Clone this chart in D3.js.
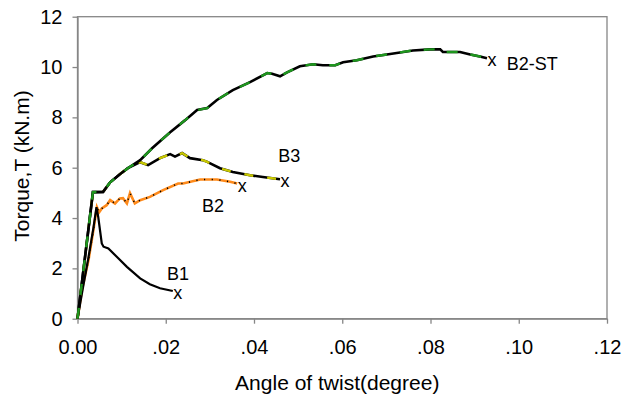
<!DOCTYPE html>
<html>
<head>
<meta charset="utf-8">
<script src="https://cdn.jsdelivr.net/npm/d3@7"></script>
<style>
  body { margin: 0; background: #fff; }
  svg text { font-family: Arial, "Liberation Sans", sans-serif; }
</style>
</head>
<body>
<svg width="622" height="396"></svg>
<script>
// angle of twist (degree) / torque (kN.m)
const b1X = [0, 0.0012, 0.0025, 0.0036, 0.0043, 0.0047, 0.0055, 0.0059, 0.0070, 0.0089, 0.0112, 0.0142, 0.0164, 0.0187, 0.0216];
const b1Y = [0, 1.20, 2.45, 3.60, 4.43, 4.04, 2.99, 2.86, 2.79, 2.46, 2.06, 1.60, 1.37, 1.21, 1.10];

const b2X = [0, 0.0010, 0.0025, 0.0036, 0.0044, 0.0049, 0.0055, 0.0066, 0.0074, 0.0085, 0.0096, 0.0103, 0.0112, 0.0119, 0.0130, 0.0142, 0.0164, 0.0194, 0.0228, 0.0239, 0.0278, 0.0316, 0.0346, 0.0362];
const b2Y = [0, 1.14, 2.33, 3.52, 4.43, 4.23, 4.38, 4.51, 4.71, 4.58, 4.78, 4.79, 4.58, 4.99, 4.58, 4.71, 4.84, 5.11, 5.37, 5.37, 5.53, 5.53, 5.44, 5.37];

const b3X = [0, 0.0035, 0.0058, 0.0074, 0.0096, 0.0114, 0.0142, 0.0160, 0.0187, 0.0210, 0.0221, 0.0237, 0.0255, 0.0284, 0.0294, 0.0323, 0.0352, 0.0391, 0.0420, 0.0459];
const b3Y = [0, 5.03, 5.04, 5.42, 5.74, 5.98, 6.22, 6.10, 6.38, 6.54, 6.44, 6.58, 6.38, 6.30, 6.23, 5.98, 5.83, 5.70, 5.63, 5.54];

const b2stX = [0, 0.0035, 0.0058, 0.0074, 0.0096, 0.0114, 0.0142, 0.0169, 0.0210, 0.0244, 0.0271, 0.0294, 0.0316, 0.0352, 0.0391, 0.0430, 0.0441, 0.0459, 0.0475, 0.0504, 0.0534, 0.0556, 0.0584, 0.0602, 0.0633, 0.0670, 0.0701, 0.0731, 0.0760, 0.0799, 0.0822, 0.0828, 0.0867, 0.0890, 0.0912, 0.0928];
const b2stY = [0, 5.03, 5.04, 5.42, 5.74, 5.98, 6.30, 6.77, 7.41, 7.89, 8.29, 8.37, 8.69, 9.08, 9.40, 9.76, 9.73, 9.63, 9.79, 10.03, 10.11, 10.07, 10.07, 10.19, 10.27, 10.42, 10.50, 10.58, 10.66, 10.70, 10.70, 10.60, 10.60, 10.50, 10.42, 10.35];

const seriesNames = ["B1", "B2", "B3", "B2-ST"];
// where each name sits, in data units
const labelX = [0.0203, 0.0282, 0.0455, 0.0973];
const labelY = [1.54, 4.25, 6.23, 9.87];

const xTicks = [0, 0.02, 0.04, 0.06, 0.08, 0.10, 0.12];
const xTickLabels = ["0.00", ".02", ".04", ".06", ".08", ".10", ".12"];
const yTicks = [0, 2, 4, 6, 8, 10, 12];

const margin = {top: 16.7, right: 15, bottom: 77.3, left: 77.5};
const width = 622 - margin.left - margin.right;
const height = 396 - margin.top - margin.bottom;
const axisGrey = "#868686";

const svg = d3.select("svg");
const g = svg.append("g")
  .attr("transform", "translate(" + margin.left + "," + margin.top + ")");

const x = d3.scaleLinear().domain([0, 0.12]).range([0, width]);
const y = d3.scaleLinear().domain([0, 12]).range([height, 0]);

// plot frame
g.append("rect")
  .attr("x", 0).attr("y", 0)
  .attr("width", width).attr("height", height)
  .attr("fill", "none")
  .attr("stroke", axisGrey)
  .attr("stroke-width", 1.3);

const xAxis = g.append("g")
  .attr("transform", "translate(0," + height + ")")
  .call(d3.axisBottom(x).tickValues(xTicks)
    .tickFormat((d, i) => xTickLabels[i])
    .tickSize(5).tickPadding(16).tickSizeOuter(0));

const yAxis = g.append("g")
  .call(d3.axisLeft(y).tickValues(yTicks)
    .tickSize(5).tickPadding(10).tickSizeOuter(0));

[xAxis, yAxis].forEach(a => {
  a.select(".domain").attr("stroke", axisGrey).attr("stroke-width", 1.3);
  a.selectAll(".tick line").attr("stroke", axisGrey).attr("stroke-width", 1.3);
  a.selectAll(".tick text")
    .attr("fill", "#000")
    .style("font-size", "20px")
    .style("font-family", "Arial, 'Liberation Sans', sans-serif");
});

// axis titles
svg.append("text")
  .attr("x", margin.left + width / 2 - 5)
  .attr("y", 390)
  .attr("text-anchor", "middle")
  .style("font-size", "21px")
  .text("Angle of twist(degree)");

svg.append("text")
  .attr("transform", "translate(29,166) rotate(-90)")
  .attr("text-anchor", "middle")
  .style("font-size", "21px")
  .text("Torque,T (kN.m)");

const line = d3.line()
  .x(d => x(d[0]))
  .y(d => y(d[1]));

function pairs(xs, ys) {
  return xs.map((v, i) => [v, ys[i]]);
}

const b1 = pairs(b1X, b1Y);
const b2 = pairs(b2X, b2Y);
const b3 = pairs(b3X, b3Y);
const b2st = pairs(b2stX, b2stY);

// B2: orange with small black dots
g.append("path").datum(b2)
  .attr("d", line).attr("fill", "none")
  .attr("stroke", "#ff8a1a").attr("stroke-width", 2.6);
g.append("path").datum(b2)
  .attr("d", line).attr("fill", "none")
  .attr("stroke", "#000").attr("stroke-width", 1.6)
  .attr("stroke-dasharray", "1.2,6.5");

// B1: plain black
g.append("path").datum(b1)
  .attr("d", line).attr("fill", "none")
  .attr("stroke", "#000").attr("stroke-width", 2.2);

// B3: black with yellow dashes
g.append("path").datum(b3)
  .attr("d", line).attr("fill", "none")
  .attr("stroke", "#000").attr("stroke-width", 2.6);
g.append("path").datum(b3)
  .attr("d", line).attr("fill", "none")
  .attr("stroke", "#c8c800").attr("stroke-width", 2.4)
  .attr("stroke-dasharray", "9,14");

// B2-ST: black with green dashes
g.append("path").datum(b2st)
  .attr("d", line).attr("fill", "none")
  .attr("stroke", "#000").attr("stroke-width", 2.6);
g.append("path").datum(b2st)
  .attr("d", line).attr("fill", "none")
  .attr("stroke", "#1e961e").attr("stroke-width", 2.4)
  .attr("stroke-dasharray", "11,13");

// end markers "x" and names
const ends = [b1, b2, b3, b2st].map(s => s[s.length - 1]);
g.selectAll(".endmark")
  .data(ends)
  .enter()
  .append("text")
  .attr("class", "endmark")
  .attr("x", d => x(d[0]) + 5)
  .attr("y", d => y(d[1]) + 8)
  .attr("text-anchor", "middle")
  .style("font-size", "18px")
  .text("x");

g.selectAll(".name")
  .data(seriesNames)
  .enter()
  .append("text")
  .attr("class", "name")
  .attr("x", (d, i) => x(labelX[i]))
  .attr("y", (d, i) => y(labelY[i]))
  .style("font-size", "18px")
  .text(d => d);
</script>
</body>
</html>
